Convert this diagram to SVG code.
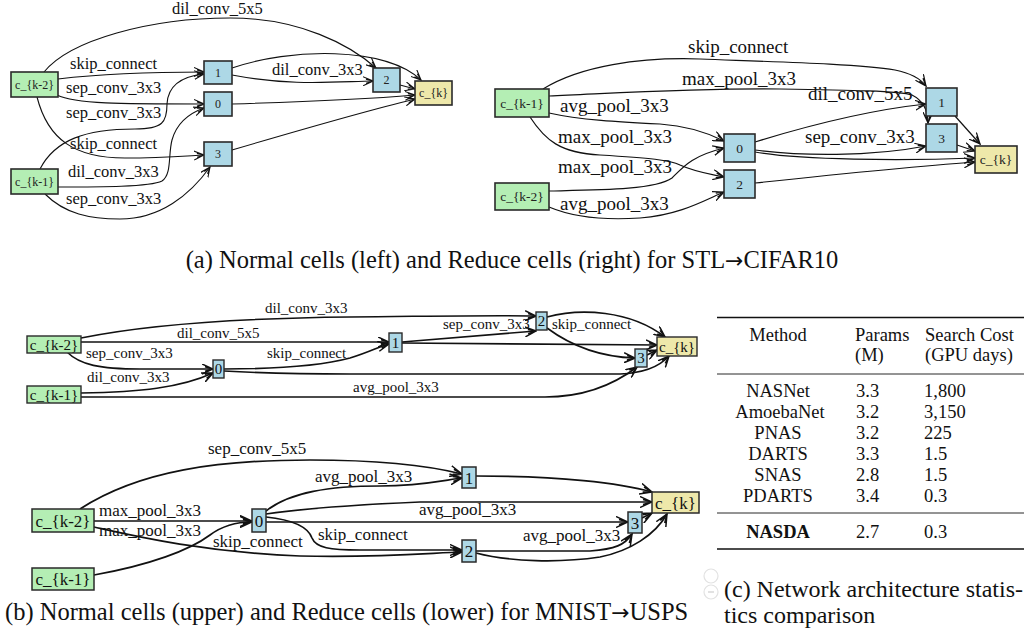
<svg xmlns="http://www.w3.org/2000/svg" width="1024" height="634" viewBox="0 0 1024 634">
  <style>
    text { font-family: "Liberation Serif", "Times New Roman", serif; fill: #111; }
    .edge { fill: none; stroke: #111; }
    .ea { stroke-width: 1.1; marker-end: url(#arrA); }
    .eb { stroke-width: 1.2; marker-end: url(#arrB); }
    .ec { stroke-width: 1.6; marker-end: url(#arrC); }
    .ed { stroke-width: 1.7; marker-end: url(#arrD); }
    .in { fill: #b4eeb4; stroke: #2a2a2a; }
    .mid { fill: #add8e6; stroke: #2a2a2a; }
    .out { fill: #eee8aa; stroke: #2a2a2a; }
    .ga rect { stroke-width: 1.6; }
    .gb rect { stroke-width: 1.6; }
    .gc rect { stroke-width: 1.4; }
    .gd rect { stroke-width: 1.5; }
    .la { font-size: 16.5px; }
    .lb { font-size: 19px; }
    .lc { font-size: 15px; }
    .ld { font-size: 17px; }
    .na { font-size: 12px; text-anchor: middle; fill: #222; }
    .nb { font-size: 13.5px; text-anchor: middle; fill: #222; }
    .nc { font-size: 15px; text-anchor: middle; fill: #111; }
    .nd { font-size: 17px; text-anchor: middle; fill: #111; }
    .cap { font-size: 24px; }
    .capw { font-size: 24.5px; }
    .arrow { font-family: "DejaVu Sans", sans-serif; font-size: 22px; }
    .tb { font-size: 18.5px; }
    .ctr { text-anchor: middle; }
    .rule { stroke: #111; }
  </style>
  <defs>
    <marker id="arrA" markerUnits="userSpaceOnUse" markerWidth="11" markerHeight="10" refX="10" refY="5" orient="auto" viewBox="0 0 11 10">
      <path d="M0,0.5 L10,5 L0,9.5 M3,3 L10,5 L3,7" fill="none" stroke="#111" stroke-width="1.1"/>
    </marker>
    <marker id="arrB" markerUnits="userSpaceOnUse" markerWidth="12" markerHeight="11" refX="11" refY="5.5" orient="auto" viewBox="0 0 12 11">
      <path d="M0,0.5 L11,5.5 L0,10.5 M3,3.3 L11,5.5 L3,7.7" fill="none" stroke="#111" stroke-width="1.2"/>
    </marker>
    <marker id="arrC" markerUnits="userSpaceOnUse" markerWidth="12" markerHeight="11" refX="11" refY="5.5" orient="auto" viewBox="0 0 12 11">
      <path d="M0,0.5 L11,5.5 L0,10.5 M3,3.3 L11,5.5 L3,7.7" fill="none" stroke="#111" stroke-width="1.5"/>
    </marker>
    <marker id="arrD" markerUnits="userSpaceOnUse" markerWidth="13" markerHeight="12" refX="12" refY="6" orient="auto" viewBox="0 0 13 12">
      <path d="M0,0.5 L12,6 L0,11.5 M3,3.5 L12,6 L3,8.5" fill="none" stroke="#111" stroke-width="1.5"/>
    </marker>
  </defs>

  <rect width="1024" height="634" fill="#fff"/>

  <!-- (a) left: normal cell -->
  <g id="a-normal-edges">
    <path class="edge ea" d="M44,72 C70,40 150,18 230,18 C300,18 350,45 376,68"/>
    <path class="edge ea" d="M232,68 C290,48 385,46 421,80"/>
    <path class="edge ea" d="M232,75 C290,86 330,82 373,81"/>
    <path class="edge ea" d="M58,79 C100,74 160,72 204,72"/>
    <path class="edge ea" d="M57,95 C75,104 120,104 204,104"/>
    <path class="edge ea" d="M37,97 C48,140 75,158 125,158 C160,158 185,156 204,155"/>
    <path class="edge ea" d="M40,169 C55,140 85,129 135,129 C163,129 167,122 167,104 C168,84 185,76 204,74"/>
    <path class="edge ea" d="M58,187 C100,187 150,187 162,181 C172,174 168,155 172,140 C177,122 190,113 204,108"/>
    <path class="edge ea" d="M45,194 C65,214 90,219 120,219 C160,219 190,195 210,167"/>
    <path class="edge ea" d="M400,85 L415,89"/>
    <path class="edge ea" d="M232,104 C300,102 380,98 415,95"/>
    <path class="edge ea" d="M232,150 C300,130 370,110 415,99"/>
    <text class="la" x="172" y="14">dil_conv_5x5</text>
    <text class="la" x="272" y="75">dil_conv_3x3</text>
    <text class="la" x="70" y="69">skip_connect</text>
    <text class="la" x="66" y="93">sep_conv_3x3</text>
    <text class="la" x="66" y="118">sep_conv_3x3</text>
    <text class="la" x="70" y="149">skip_connect</text>
    <text class="la" x="68" y="177">dil_conv_3x3</text>
    <text class="la" x="66" y="204">sep_conv_3x3</text>
  </g>
  <g class="ga">
    <g id="a-normal-ck2"><rect class="in" x="11" y="72" width="47" height="25"/><text class="na" x="34.5" y="88.5">c_{k-2}</text></g>
    <g id="a-normal-ck1"><rect class="in" x="11" y="169" width="47" height="25"/><text class="na" x="34.5" y="185.5">c_{k-1}</text></g>
    <g id="a-normal-n1"><rect class="mid" x="204" y="61" width="28" height="23"/><text class="na" x="218" y="77">1</text></g>
    <g id="a-normal-n0"><rect class="mid" x="204" y="92" width="28" height="24"/><text class="na" x="218" y="108">0</text></g>
    <g id="a-normal-n3"><rect class="mid" x="204" y="142" width="28" height="24"/><text class="na" x="218" y="158">3</text></g>
    <g id="a-normal-n2"><rect class="mid" x="373" y="68" width="27" height="24"/><text class="na" x="386.5" y="84">2</text></g>
    <g id="a-normal-ck"><rect class="out" x="415" y="81" width="37" height="24"/><text class="na" x="433.5" y="97">c_{k}</text></g>
  </g>

  <!-- (a) right: reduce cell -->
  <g id="a-reduce-edges">
    <path class="edge eb" d="M543,89 C580,66 640,57 700,59 C780,62 860,64 895,70 C910,73 920,78 926,86"/>
    <path class="edge eb" d="M549,96 C620,93 700,88 780,89 C850,90 900,91 912,95 C922,100 928,110 928,123"/>
    <path class="edge eb" d="M549,113 C580,120 620,122 660,124 C690,126 710,134 724,141"/>
    <path class="edge eb" d="M530,117 C545,140 560,153 600,155 C650,158 670,160 680,165 C695,172 710,174 724,177"/>
    <path class="edge eb" d="M549,191 C600,190 655,190 672,178 C684,166 692,156 724,148"/>
    <path class="edge eb" d="M549,207 C575,218 610,220 640,218 C680,215 705,200 724,192"/>
    <path class="edge eb" d="M755,142 C810,125 870,110 926,104"/>
    <path class="edge eb" d="M755,150 C800,156 870,157 926,146"/>
    <path class="edge eb" d="M755,152 C800,160 900,161 975,158"/>
    <path class="edge eb" d="M755,183 C830,175 920,166 975,162"/>
    <path class="edge eb" d="M955,116 L980,144"/>
    <path class="edge eb" d="M957,145 L975,151"/>
    <text class="lb" x="688" y="53">skip_connect</text>
    <text class="lb" x="682" y="85">max_pool_3x3</text>
    <text class="lb" x="808" y="100">dil_conv_5x5</text>
    <text class="lb" x="560" y="112">avg_pool_3x3</text>
    <text class="lb" x="805" y="143">sep_conv_3x3</text>
    <text class="lb" x="558" y="143">max_pool_3x3</text>
    <text class="lb" x="558" y="173">max_pool_3x3</text>
    <text class="lb" x="560" y="210">avg_pool_3x3</text>
  </g>
  <g class="gb">
    <g id="a-reduce-ck1"><rect class="in" x="495" y="89" width="54" height="28"/><text class="nb" x="522" y="107.5">c_{k-1}</text></g>
    <g id="a-reduce-ck2"><rect class="in" x="495" y="183" width="54" height="27"/><text class="nb" x="522" y="201">c_{k-2}</text></g>
    <g id="a-reduce-n0"><rect class="mid" x="724" y="134" width="31" height="28"/><text class="nb" x="739.5" y="152.5">0</text></g>
    <g id="a-reduce-n2"><rect class="mid" x="724" y="170" width="31" height="28"/><text class="nb" x="739.5" y="188.5">2</text></g>
    <g id="a-reduce-n1"><rect class="mid" x="926" y="88" width="31" height="28"/><text class="nb" x="941.5" y="106.5">1</text></g>
    <g id="a-reduce-n3"><rect class="mid" x="926" y="124" width="31" height="28"/><text class="nb" x="941.5" y="142.5">3</text></g>
    <g id="a-reduce-ck"><rect class="out" x="975" y="146" width="42" height="27"/><text class="nb" x="996" y="164">c_{k}</text></g>
  </g>

  <text class="capw ctr" x="512" y="268">(a) Normal cells (left) and Reduce cells (right) for STL<tspan class="arrow">→</tspan>CIFAR10</text>

  <!-- (b) upper: normal cell -->
  <g id="b-normal-edges">
    <path class="edge ec" d="M81,338 C150,324 250,318 350,317 C450,316 500,315 536,316"/>
    <path class="edge ec" d="M81,342 L389,342"/>
    <path class="edge ec" d="M67,352 C80,365 100,369 140,369 L213,369"/>
    <path class="edge ec" d="M81,393 C140,392 180,388 213,373"/>
    <path class="edge ec" d="M224,369 C280,369 320,366 350,358 C370,352 380,346 389,344"/>
    <path class="edge ec" d="M224,371 C260,373 300,374 350,374 L620,374 C645,373 660,366 669,356"/>
    <path class="edge ec" d="M81,397 L545,397 C590,397 620,380 637,367"/>
    <path class="edge ec" d="M402,342 C460,337 510,333 536,331"/>
    <path class="edge ec" d="M402,343 L657,345"/>
    <path class="edge ec" d="M547,317 C580,308 630,310 665,337"/>
    <path class="edge ec" d="M547,328 C570,345 600,357 635,358"/>
    <path class="edge ec" d="M647,355 L657,350"/>
    <text class="lc" x="265" y="313">dil_conv_3x3</text>
    <text class="lc" x="177" y="338">dil_conv_5x5</text>
    <text class="lc" x="86" y="358">sep_conv_3x3</text>
    <text class="lc" x="87" y="382">dil_conv_3x3</text>
    <text class="lc" x="267" y="358">skip_connect</text>
    <text class="lc" x="353" y="392">avg_pool_3x3</text>
    <text class="lc" x="443" y="329">sep_conv_3x3</text>
    <text class="lc" x="552" y="329">skip_connect</text>
  </g>
  <g class="gc">
    <g id="b-normal-ck2"><rect class="in" x="27" y="336" width="54" height="17"/><text class="nc" x="54" y="349.5">c_{k-2}</text></g>
    <g id="b-normal-ck1"><rect class="in" x="27" y="386" width="54" height="17"/><text class="nc" x="54" y="399.5">c_{k-1}</text></g>
    <g id="b-normal-n0"><rect class="mid" x="213" y="360" width="11" height="18"/><text class="nc" x="218.5" y="374">0</text></g>
    <g id="b-normal-n1"><rect class="mid" x="389" y="333" width="13" height="19"/><text class="nc" x="395.5" y="347.5">1</text></g>
    <g id="b-normal-n2"><rect class="mid" x="536" y="312" width="11" height="18"/><text class="nc" x="541.5" y="326">2</text></g>
    <g id="b-normal-n3"><rect class="mid" x="635" y="349" width="12" height="18"/><text class="nc" x="641" y="363">3</text></g>
    <g id="b-normal-ck"><rect class="out" x="657" y="337" width="40" height="19"/><text class="nc" x="677" y="351.5">c_{k}</text></g>
  </g>

  <!-- (b) lower: reduce cell -->
  <g id="b-reduce-edges">
    <path class="edge ed" d="M80,509 C140,470 220,460 310,460 C380,460 430,466 462,474"/>
    <path class="edge ed" d="M94,521 L252,521"/>
    <path class="edge ed" d="M94,527 C130,535 200,552 300,556 C380,558 430,553 462,552"/>
    <path class="edge ed" d="M94,575 C150,565 190,550 210,535 C222,526 235,522 252,522"/>
    <path class="edge ed" d="M266,511 C290,492 330,486 380,486 C420,486 445,480 462,478"/>
    <path class="edge ed" d="M266,514 C300,509 350,505 420,502 L652,502"/>
    <path class="edge ed" d="M266,522 L628,522"/>
    <path class="edge ed" d="M266,517 C295,520 308,527 312,538 C316,548 330,550 360,550 L462,550"/>
    <path class="edge ed" d="M476,551 L590,551 C615,549 625,545 632,534"/>
    <path class="edge ed" d="M476,553 C510,562 560,563 600,557 C630,551 655,535 667,514"/>
    <path class="edge ed" d="M476,476 C560,476 620,483 652,492"/>
    <path class="edge ed" d="M642,518 L652,513"/>
    <text class="ld" x="208" y="454">sep_conv_5x5</text>
    <text class="ld" x="99" y="516">max_pool_3x3</text>
    <text class="ld" x="99" y="536">max_pool_3x3</text>
    <text class="ld" x="213" y="547">skip_connect</text>
    <text class="ld" x="315" y="482">avg_pool_3x3</text>
    <text class="ld" x="419" y="515">avg_pool_3x3</text>
    <text class="ld" x="318" y="540">skip_connect</text>
    <text class="ld" x="523" y="541">avg_pool_3x3</text>
  </g>
  <g class="gd">
    <g id="b-reduce-ck2"><rect class="in" x="32" y="509" width="62" height="23"/><text class="nd" x="63" y="526.5">c_{k-2}</text></g>
    <g id="b-reduce-ck1"><rect class="in" x="32" y="568" width="62" height="22"/><text class="nd" x="63" y="585">c_{k-1}</text></g>
    <g id="b-reduce-n0"><rect class="mid" x="252" y="509" width="14" height="23"/><text class="nd" x="259" y="526.5">0</text></g>
    <g id="b-reduce-n1"><rect class="mid" x="462" y="467" width="14" height="21"/><text class="nd" x="469" y="483.5">1</text></g>
    <g id="b-reduce-n2"><rect class="mid" x="462" y="540" width="14" height="22"/><text class="nd" x="469" y="557">2</text></g>
    <g id="b-reduce-n3"><rect class="mid" x="628" y="512" width="14" height="21"/><text class="nd" x="635" y="528.5">3</text></g>
    <g id="b-reduce-ck"><rect class="out" x="652" y="492" width="47" height="21"/><text class="nd" x="675.5" y="508.5">c_{k}</text></g>
  </g>

  <text class="capw" x="5" y="620">(b) Normal cells (upper) and Reduce cells (lower) for MNIST<tspan class="arrow">→</tspan>USPS</text>

  <!-- faint zoom buttons -->
  <g fill="none" stroke="#e2e2e2" stroke-width="1.2">
    <circle cx="711" cy="576" r="7"/>
    <circle cx="711" cy="592" r="7"/>
    <path d="M708,592 L714,592" stroke="#cfcfcf"/>
  </g>

  <!-- (c) table -->
  <g id="table">
    <line class="rule" x1="717" y1="317.5" x2="1024" y2="317.5" stroke-width="1.4"/>
    <text class="tb ctr" x="778" y="341">Method</text>
    <text class="tb" x="855" y="341">Params</text>
    <text class="tb" x="855" y="361">(M)</text>
    <text class="tb" x="925" y="341">Search Cost</text>
    <text class="tb" x="925" y="361">(GPU days)</text>
    <line class="rule" x1="717" y1="374" x2="1024" y2="374" stroke-width="0.9"/>
    <g class="tb">
      <text class="ctr" x="778" y="397">NASNet</text><text x="856" y="397">3.3</text><text x="924" y="397">1,800</text>
      <text class="ctr" x="780" y="418">AmoebaNet</text><text x="856" y="418">3.2</text><text x="924" y="418">3,150</text>
      <text class="ctr" x="778" y="439">PNAS</text><text x="856" y="439">3.2</text><text x="924" y="439">225</text>
      <text class="ctr" x="778" y="460">DARTS</text><text x="856" y="460">3.3</text><text x="924" y="460">1.5</text>
      <text class="ctr" x="778" y="481">SNAS</text><text x="856" y="481">2.8</text><text x="924" y="481">1.5</text>
      <text class="ctr" x="778" y="502">PDARTS</text><text x="856" y="502">3.4</text><text x="924" y="502">0.3</text>
    </g>
    <line class="rule" x1="717" y1="513" x2="1024" y2="513" stroke-width="0.9"/>
    <text class="tb ctr" x="778" y="538" font-weight="bold">NASDA</text>
    <text class="tb" x="856" y="538">2.7</text>
    <text class="tb" x="924" y="538">0.3</text>
    <line class="rule" x1="717" y1="549" x2="1024" y2="549" stroke-width="1.4"/>
    <text class="cap" x="724" y="597" textLength="299" lengthAdjust="spacing">(c) Network architecture statis-</text>
    <text class="cap" x="724" y="623">tics comparison</text>
  </g>
</svg>
